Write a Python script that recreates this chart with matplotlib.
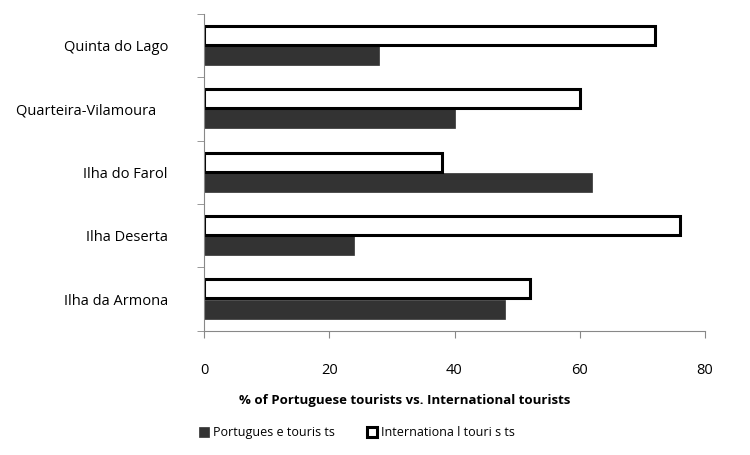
import matplotlib.pyplot as plt
import numpy as np

plt.rcParams['font.family'] = ['Open Sans', 'DejaVu Sans']
plt.rcParams['font.size'] = 10

sites = ["Ilha da Armona", "Ilha Deserta", "Ilha do Farol",
         "Quarteira-Vilamoura   ", "Quinta do Lago"]
portuguese = [48, 24, 62, 40, 28]
international = [52, 76, 38, 60, 72]
xticks = [0, 20, 40, 60, 80]

fig = plt.figure(figsize=(7.5, 4.55), dpi=100)
ax = fig.add_axes([0.272, 0.273, 0.668, 0.697])

y = np.arange(len(sites))
h = 0.3
b1 = ax.barh(y - h / 2 - 0.01, portuguese, height=h, color='#333333',
             edgecolor='#333333', linewidth=0.5, label='Portugues e touris ts')
b2 = ax.barh(y + h / 2 + 0.01, international, height=h, color='white',
             edgecolor='black', linewidth=2.2,
             label='Internationa l touri s ts')

ax.set_xlim(0, 80)
ax.set_ylim(-0.5, len(sites) - 0.5)
ax.set_xticks(xticks)
ax.set_yticks(y)
ax.set_yticklabels(sites, fontsize=10.5)
ax.set_yticks(np.arange(len(sites) + 1) - 0.5, minor=True)
ax.tick_params(axis='y', which='major', length=0, pad=26)
ax.tick_params(axis='y', which='minor', length=5, color='#888888')
ax.tick_params(axis='x', length=5, color='#888888', pad=18, labelsize=10.5)

for s in ['top', 'right']:
    ax.spines[s].set_visible(False)
for s in ['left', 'bottom']:
    ax.spines[s].set_color('#888888')

ax.set_xlabel("% of Portuguese tourists vs. International tourists",
              fontweight='bold', labelpad=15, fontsize=9.5)
ax.xaxis.set_label_coords(0.40, -0.2)

ax.legend(handles=[b1, b2], loc='upper left', bbox_to_anchor=(-0.02, -0.285),
          ncol=2, frameon=False, handlelength=0.8, handleheight=0.8,
          handletextpad=0.3, columnspacing=2.6, fontsize=9,
          borderaxespad=0)

fig.savefig("out.png")
